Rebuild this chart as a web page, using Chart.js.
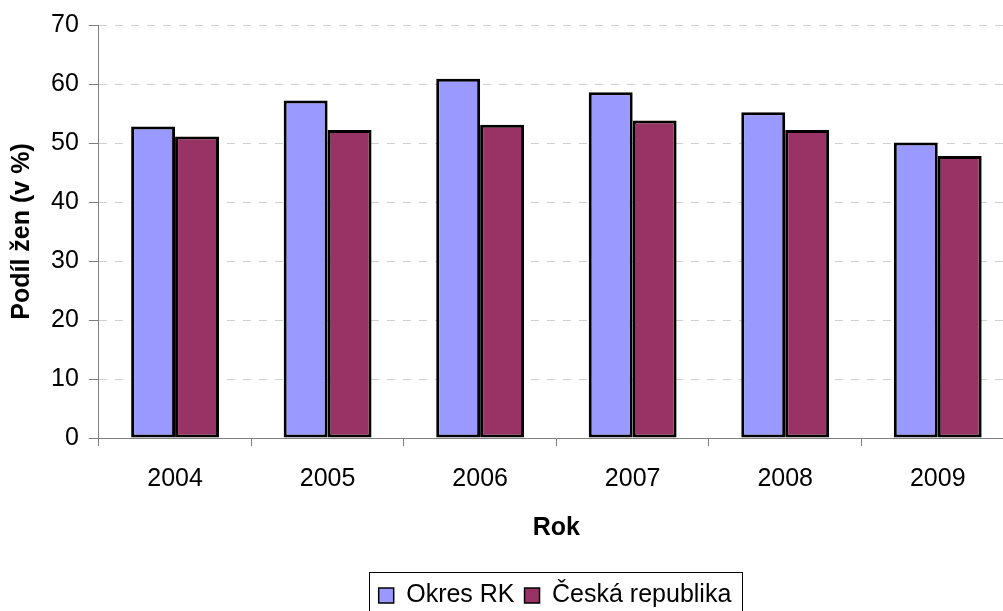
<!DOCTYPE html>
<html>
<head>
<meta charset="utf-8">
<script src="https://cdn.jsdelivr.net/npm/chart.js@4"></script>
<style>
  html, body { margin: 0; padding: 0; background: #fff; overflow: hidden; }
  #wrap { width: 1106px; height: 618px; }
</style>
</head>
<body>
<div id="wrap"><canvas id="myChart"></canvas></div>
<script>
const years = ['2004', '2005', '2006', '2007', '2008', '2009'];
const okresRK = [52.8, 57.2, 60.9, 58.6, 55.2, 50.1];
const ceskaRep = [51.1, 52.2, 53.1, 53.8, 52.2, 47.8];
const yTicks = [0, 10, 20, 30, 40, 50, 60, 70];

Chart.defaults.font.family = '"Liberation Sans", Arial, sans-serif';
Chart.defaults.color = '#000';

// move the legend to where the Excel legend sits and frame it
const legendFrame = {
    id: 'legendFrame',
    afterUpdate(chart) {
        const boxes = chart.legend.legendHitBoxes;
        if (!boxes || !boxes.length) return;
        let l = Infinity, r = -Infinity;
        boxes.forEach(function (h) {
            l = Math.min(l, h.left); r = Math.max(r, h.left + h.width);
        });
        const dx = Math.round(555 - (l + r) / 2);
        chart.legend.left += dx;
        chart.legend.right += dx;
        boxes.forEach(function (h) { h.left += dx; });
    },
    afterDraw(chart) {
        const boxes = chart.legend.legendHitBoxes;
        let l = Infinity, r = -Infinity, t = Infinity;
        boxes.forEach(function (h) {
            l = Math.min(l, h.left); r = Math.max(r, h.left + h.width);
            t = Math.min(t, h.top);
        });
        const ctx = chart.ctx;
        ctx.save();
        ctx.strokeStyle = '#000';
        ctx.lineWidth = 1;
        ctx.strokeRect(Math.round(l - 10) + 0.5, Math.round(t - 11) + 0.5, Math.round(r - l + 20), chart.height);
        ctx.restore();
    }
};

const data = {
    labels: years,
    datasets: [{
        label: 'Okres RK',
        data: okresRK,
        backgroundColor: '#9999FF',
        borderColor: '#000',
        borderWidth: 3,
        borderSkipped: false
    }, {
        label: 'Česká republika',
        data: ceskaRep,
        backgroundColor: '#993366',
        borderColor: '#000',
        borderWidth: 3,
        borderSkipped: false
    }]
};

const config = {
    type: 'bar',
    data: data,
    plugins: [legendFrame],
    options: {
        responsive: true,
        maintainAspectRatio: false,
        animation: false,
        layout: { padding: { top: 10, right: 92, left: 0, bottom: 0 } },
        datasets: {
            bar: { categoryPercentage: 0.576, barPercentage: 1.0 }
        },
        plugins: {
            legend: {
                position: 'bottom',
                labels: {
                    font: { size: 25 },
                    boxWidth: 15,
                    boxHeight: 15,
                    padding: 10,
                    generateLabels: function (chart) {
                        return chart.data.datasets.map(function (ds, i) {
                            return {
                                text: ds.label,
                                fillStyle: ds.backgroundColor,
                                strokeStyle: '#000',
                                lineWidth: 1.5,
                                datasetIndex: i
                            };
                        });
                    }
                }
            },
            tooltip: { enabled: false }
        },
        scales: {
            x: {
                grid: {
                    offset: true,
                    drawOnChartArea: false,
                    tickLength: 8,
                    tickColor: '#808080'
                },
                border: { color: '#808080', width: 1 },
                ticks: { font: { size: 25 }, padding: 18 },
                title: {
                    display: true,
                    text: 'Rok',
                    font: { size: 25, weight: 'bold' },
                    padding: { top: 1, bottom: 30 }
                }
            },
            y: {
                min: 0,
                max: 70,
                afterBuildTicks: function (axis) {
                    axis.ticks = yTicks.map(function (v) { return { value: v }; });
                },
                grid: {
                    color: '#d0d0d0',
                    tickLength: 10,
                    tickColor: '#808080',
                    tickBorderDash: []
                },
                border: { color: '#808080', width: 1, dash: [8, 8] },
                ticks: { font: { size: 25 }, padding: 10 },
                title: {
                    display: true,
                    text: 'Podíl žen (v %)',
                    font: { size: 25, weight: 'bold' },
                    padding: { top: 7, bottom: 4 }
                }
            }
        }
    }
};

const myChart = new Chart(document.getElementById('myChart'), config);
</script>
</body>
</html>
